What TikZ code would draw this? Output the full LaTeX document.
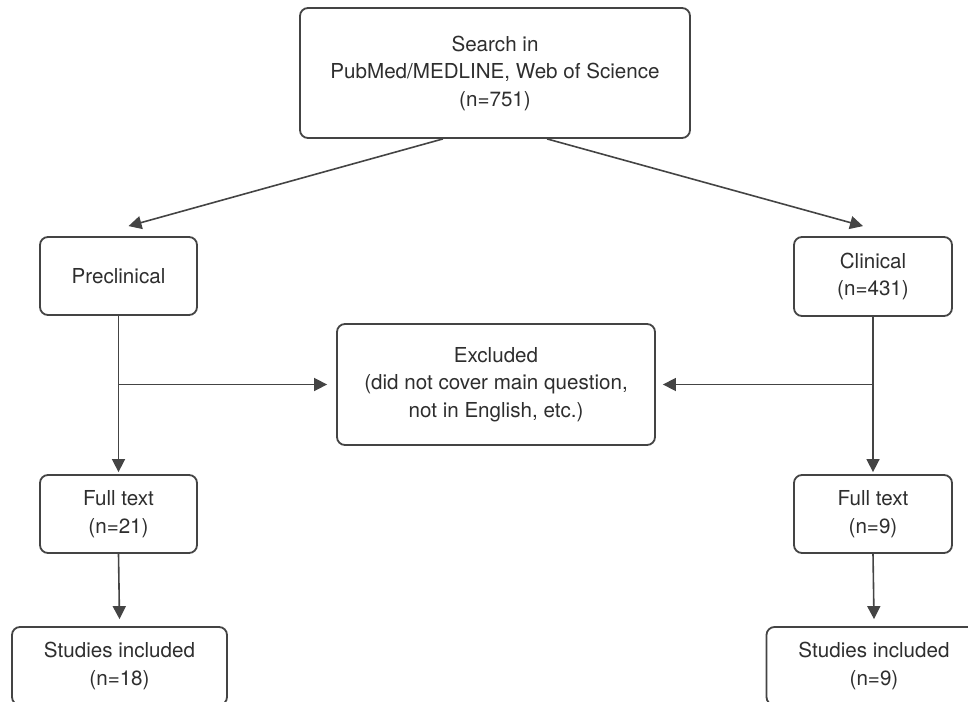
\documentclass[tikz,border=0pt]{standalone}
\usepackage{fontspec}
\setmainfont{TeX Gyre Heros}
\usetikzlibrary{arrows.meta}

\definecolor{linegray}{HTML}{444444}
\definecolor{textgray}{HTML}{2E2E2E}

\tikzset{
    box/.style={draw=linegray, line width=0.9pt, rounded corners=4pt, fill=white,
        align=center, inner sep=0pt, text=textgray,
        font=\fontsize{10.3}{13.75}\selectfont},
    arr/.style={draw=linegray, line width=0.8pt,
        -{Triangle[length=6.5pt,width=6.5pt]}}
}

\begin{document}
\begin{tikzpicture}[x=0.5pt, y=-0.5pt]

        % Page frame
        \useasboundingbox (0,0) rectangle (968,701);

        % Define the boxes
        \node[box, minimum width=195pt, minimum height=65pt] (search) at (495,73)
            {Search in\\PubMed/MEDLINE, Web of Science\\(n=751)};
        \node[box, minimum width=78.5pt, minimum height=39pt] (precl) at (118.5,276) {Preclinical};
        \node[box, minimum width=79pt, minimum height=39.5pt] (clin) at (873,276.5) {Clinical\\(n=431)};
        \node[box, minimum width=159pt, minimum height=60.5pt] (excl) at (496,384.5)
            {Excluded\\(did not cover main question,\\not in English, etc.)};
        \node[box, minimum width=78.5pt, minimum height=39pt] (fullL) at (118.5,514) {Full text\\(n=21)};
        \node[box, minimum width=79pt, minimum height=39pt] (fullR) at (873,514) {Full text\\(n=9)};
        \node[box, minimum width=107.5pt, minimum height=39pt] (studL) at (119.5,666) {Studies included\\(n=18)};
        \node[box, minimum width=107.5pt, minimum height=39pt] (studR) at (874,666) {Studies included\\(n=9)};

        % Split of the search
        \draw[arr] ([xshift=-26pt]search.south) -- ([xshift=5pt,yshift=5pt]precl.north);
        \draw[arr] ([xshift=26pt]search.south) -- ([xshift=-5pt,yshift=5pt]clin.north);

        % Left branch
        \draw[arr] (precl.south) -- ([yshift=1pt]fullL.north);
        \draw[arr] (precl.south |- excl.west) -- ([xshift=-4.5pt]excl.west);
        \draw[arr] (fullL.south) -- ([yshift=3.5pt]studL.north);

        % Right branch
        \draw[arr] (clin.south) -- ([yshift=1pt]fullR.north);
        \draw[arr] (clin.south |- excl.east) -- ([xshift=3.5pt]excl.east);
        \draw[arr] (fullR.south) -- ([yshift=3.5pt]studR.north);

    \end{tikzpicture}
\end{document}
